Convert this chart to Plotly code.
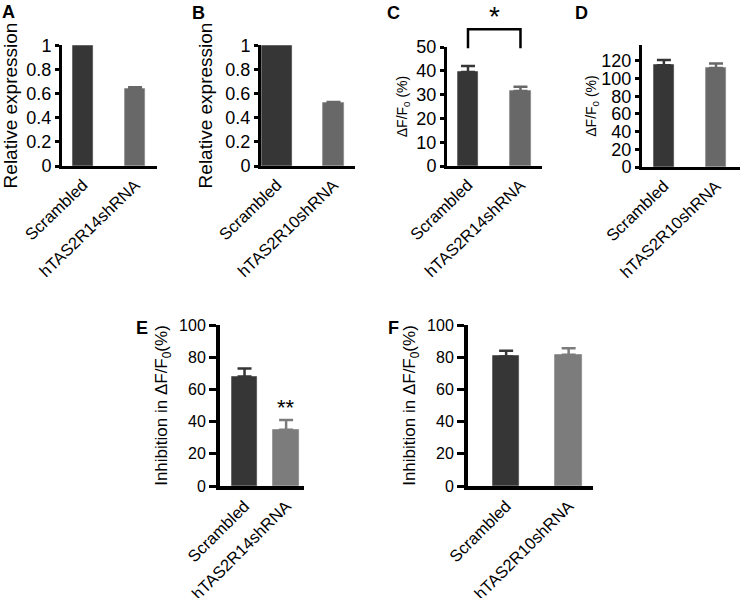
import plotly.graph_objects as go

W, H = 740, 598
FONT = "Liberation Sans, Arial, sans-serif"

# ---- data ----
cats_A = ["Scrambled", "hTAS2R14shRNA"]
vals_A = [1.0, 0.64]
err_A = [0.0, 0.015]

cats_B = ["Scrambled", "hTAS2R10shRNA"]
vals_B = [1.0, 0.52]
err_B = [0.0, 0.012]

cats_C = ["Scrambled", "hTAS2R14shRNA"]
vals_C = [39.5, 31.5]
err_C = [2.5, 1.8]

cats_D = ["Scrambled", "hTAS2R10shRNA"]
vals_D = [115, 112]
err_D = [6, 5]

cats_E = ["Scrambled", "hTAS2R14shRNA"]
vals_E = [68, 35]
err_E = [5, 6]

cats_F = ["Scrambled", "hTAS2R10shRNA"]
vals_F = [80.5, 81.5]
err_F = [3.5, 4]

ticks_AB = [0, 0.2, 0.4, 0.6, 0.8, 1]
ticklabels_AB = ["0", "0.2", "0.4", "0.6", "0.8", "1"]
ticks_C = [0, 10, 20, 30, 40, 50]
ticks_D = [0, 20, 40, 60, 80, 100, 120]
ticks_EF = [0, 20, 40, 60, 80, 100]

DARK = "#363636"
GRAY1 = "#686868"
GRAY2 = "#7c7c7c"

fig = go.Figure()

def px2x(p):
    return p / W

def px2y(p):
    return 1 - p / H

panels = [
    dict(cats=cats_A, vals=vals_A, err=err_A, xpx=(62, 157), ypx=(45, 166), xr=[-0.40, 1.42], yr=[0, 1.005],
         widths=[0.385, 0.385], colors=[DARK, GRAY1], yt=ticks_AB, ytl=ticklabels_AB,
         title="Relative expression", tsize=19, standoff=8, fs=18, lw=3, tl=4, ta=-44),
    dict(cats=cats_B, vals=vals_B, err=err_B, xpx=(261, 355), ypx=(45, 166), xr=[-0.28, 1.38], yr=[0, 1.005],
         widths=[0.53, 0.36], colors=[DARK, GRAY1], yt=ticks_AB, ytl=ticklabels_AB,
         title="Relative expression", tsize=19, standoff=8, fs=18, lw=3, tl=4, ta=-44),
    dict(cats=cats_C, vals=vals_C, err=err_C, xpx=(447, 542), ypx=(47, 166), xr=[-0.40, 1.41], yr=[0, 50],
         widths=[0.38, 0.40], colors=[DARK, GRAY1], yt=ticks_C, ytl=[str(t) for t in ticks_C],
         title="ΔF/F<sub>0</sub> (%)", tsize=14, standoff=6, fs=18, lw=3, tl=4, ta=-44),
    dict(cats=cats_D, vals=vals_D, err=err_D, xpx=(642, 740), ypx=(45, 167), xr=[-0.42, 1.46], yr=[0, 138],
         widths=[0.38, 0.38], colors=[DARK, GRAY1], yt=ticks_D, ytl=[str(t) for t in ticks_D],
         title="ΔF/F<sub>0</sub> (%)", tsize=14, standoff=2, fs=18, lw=3, tl=4, ta=-44),
    dict(cats=cats_E, vals=vals_E, err=err_E, xpx=(220, 304), ypx=(325, 486), xr=[-0.59, 1.43], yr=[0, 100],
         widths=[0.60, 0.63], colors=[DARK, GRAY2], yt=ticks_EF, ytl=[str(t) for t in ticks_EF],
         title="Inhibition in ΔF/F<sub>0</sub>(%)", tsize=17, standoff=8, fs=16, lw=4, tl=7, ta=-45),
    dict(cats=cats_F, vals=vals_F, err=err_F, xpx=(468, 593), ypx=(325, 486), xr=[-0.61, 1.39], yr=[0, 100],
         widths=[0.42, 0.43], colors=[DARK, GRAY2], yt=ticks_EF, ytl=[str(t) for t in ticks_EF],
         title="Inhibition in ΔF/F<sub>0</sub>(%)", tsize=17, standoff=8, fs=16, lw=4, tl=7, ta=-45),
]

layout = dict(width=W, height=H, margin=dict(l=0, r=0, t=0, b=0, autoexpand=False),
              template="none",
              paper_bgcolor="white", plot_bgcolor="white", showlegend=False,
              font=dict(family=FONT, color="black"), bargap=0)

for i, p in enumerate(panels):
    n = i + 1
    xa = "x" if n == 1 else f"x{n}"
    ya = "y" if n == 1 else f"y{n}"
    for j in range(2):
        col = p["colors"][j]
        fig.add_trace(go.Bar(
            x=[j], y=[p["vals"][j]], width=[p["widths"][j]],
            marker=dict(color=col, line=dict(color="#8a8a8a" if j else "#505050", width=0.8)),
            error_y=dict(type="data", array=[p["err"][j]], arrayminus=[0], symmetric=False,
                         color=col, thickness=2.5, width=7, visible=p["err"][j] > 0),
            xaxis=xa, yaxis=ya, hoverinfo="skip"))
    kx = "xaxis" if n == 1 else f"xaxis{n}"
    ky = "yaxis" if n == 1 else f"yaxis{n}"
    layout[kx] = dict(domain=[px2x(p["xpx"][0]), min(1.0, px2x(p["xpx"][1]))], anchor=ya, automargin=False,
                      range=p["xr"], tickmode="array", tickvals=[0, 1], ticktext=p["cats"],
                      tickangle=p["ta"], ticks="", showline=True, linecolor="black", linewidth=p["lw"],
                      showgrid=False, zeroline=False, tickfont=dict(size=16.5, family=FONT))
    layout[ky] = dict(domain=[px2y(p["ypx"][1]), px2y(p["ypx"][0])], anchor=xa, automargin=False,
                      range=p["yr"], tickmode="array", tickvals=p["yt"], ticktext=p["ytl"],
                      ticks="outside", ticklen=p["tl"], tickwidth=2.5, tickcolor="black",
                      showline=True, linecolor="black", linewidth=p["lw"], showgrid=False, zeroline=False,
                      tickfont=dict(size=p["fs"], family=FONT),
                      title=dict(text=p["title"], font=dict(size=p["tsize"], family=FONT),
                                 standoff=p["standoff"]))

fig.update_layout(**layout)

pc = panels[2]
def dom_x(p, v):
    return (v - p["xr"][0]) / (p["xr"][1] - p["xr"][0])
def dom_y(p, v):
    return (v - p["yr"][0]) / (p["yr"][1] - p["yr"][0])

bracket_y = 57.5
leg_y = 49.5
star_y = 70
fig.add_shape(type="path",
              path=f"M {dom_x(pc, 0)} {dom_y(pc, leg_y)} L {dom_x(pc, 0)} {dom_y(pc, bracket_y)} "
                   f"L {dom_x(pc, 1)} {dom_y(pc, bracket_y)} L {dom_x(pc, 1)} {dom_y(pc, leg_y)}",
              xref="x3 domain", yref="y3 domain", line=dict(color="black", width=2.5))
fig.add_annotation(x=dom_x(pc, 0.5), y=dom_y(pc, star_y), xref="x3 domain", yref="y3 domain",
                   text="*", showarrow=False, font=dict(size=28, family=FONT, color="black"))
fig.add_annotation(x=1, y=49, xref="x5", yref="y5", text="**", showarrow=False,
                   font=dict(size=22, family=FONT, color="black"))

for letter, (lx, ly) in {"A": (8.5, 12), "B": (198, 13), "C": (393, 12.5), "D": (581, 13),
                         "E": (142, 328), "F": (393, 328)}.items():
    fig.add_annotation(x=px2x(lx), y=px2y(ly), xref="paper", yref="paper", text=f"<b>{letter}</b>",
                       showarrow=False, xanchor="center", yanchor="middle",
                       font=dict(size=18, family=FONT, color="black"))

fig.write_html("out.html", config={"displayModeBar": False},
               post_script="document.body.style.margin='0';")
